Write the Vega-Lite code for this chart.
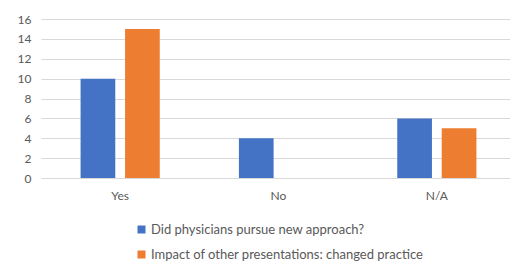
{
  "$schema": "https://vega.github.io/schema/vega-lite/v6.json",
  "width": 475,
  "height": 159,
  "autosize": "none",
  "padding": {"left": 41, "top": 19, "right": 0, "bottom": 85},
  "background": "white",
  "config": {
    "view": {"stroke": null},
    "font": "Lato",
    "axis": {"labelFont": "Lato", "labelColor": "#595959", "labelFontSize": 12},
    "legend": {"labelFont": "Lato", "labelColor": "#595959", "labelFontSize": 13}
  },
  "data": {
    "values": [
      {"answer": "Yes", "series": "Did physicians pursue new approach?", "count": 10},
      {"answer": "Yes", "series": "Impact of other presentations: changed practice", "count": 15},
      {"answer": "No", "series": "Did physicians pursue new approach?", "count": 4},
      {"answer": "No", "series": "Impact of other presentations: changed practice", "count": 0},
      {"answer": "N/A", "series": "Did physicians pursue new approach?", "count": 6},
      {"answer": "N/A", "series": "Impact of other presentations: changed practice", "count": 5}
    ]
  },
  "mark": {"type": "bar"},
  "encoding": {
    "x": {
      "field": "answer", "type": "nominal", "sort": ["Yes", "No", "N/A"],
      "scale": {"paddingInner": 0.5, "paddingOuter": 0.25},
      "axis": {"title": null, "labelAngle": 0, "ticks": false, "domain": false, "labelPadding": 12}
    },
    "xOffset": {
      "field": "series", "type": "nominal",
      "scale": {"paddingInner": 0.22, "paddingOuter": 0}
    },
    "y": {
      "field": "count", "type": "quantitative",
      "scale": {"domain": [0, 16]},
      "axis": {"title": null, "values": [0, 2, 4, 6, 8, 10, 12, 14, 16], "ticks": false, "domain": false, "gridColor": "#D9D9D9", "gridWidth": 1, "labelPadding": 10}
    },
    "color": {
      "field": "series", "type": "nominal",
      "scale": {"range": ["#4472C4", "#ED7D31"]},
      "legend": {
        "title": null, "orient": "none", "legendX": 94, "legendY": 204,
        "direction": "vertical", "symbolType": "square", "symbolSize": 64,
        "rowPadding": 11, "labelOffset": 3, "labelLimit": 0
      }
    }
  }
}
